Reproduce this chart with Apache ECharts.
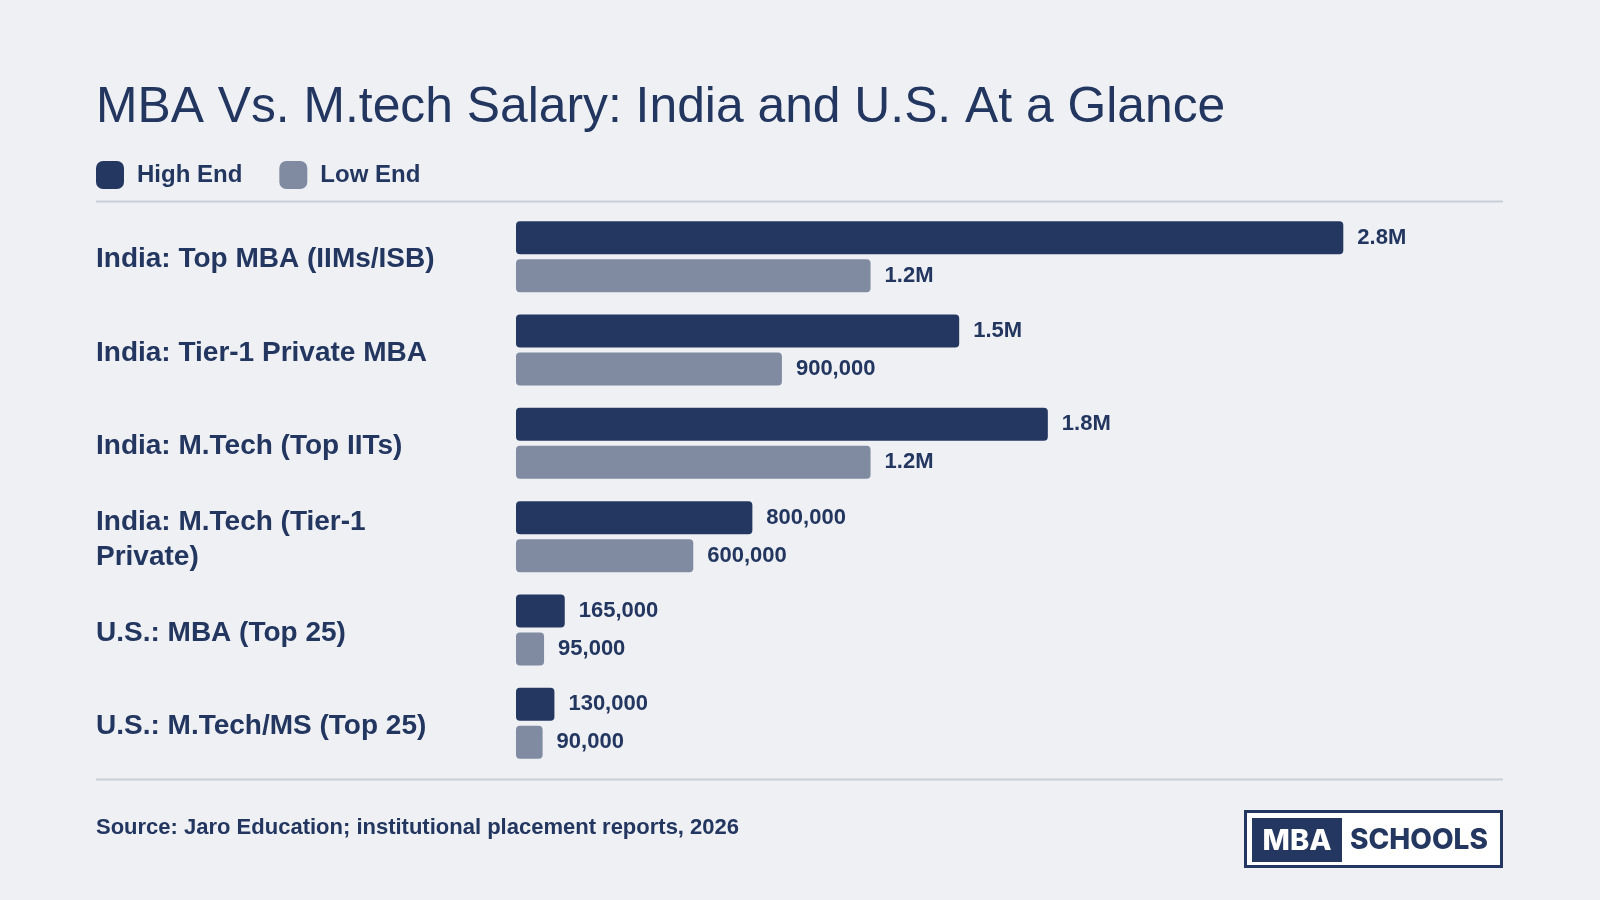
<!DOCTYPE html>
<html>
<head>
<meta charset="utf-8">
<script src="https://cdn.jsdelivr.net/npm/echarts@6/dist/echarts.min.js"></script>
<style>
html,body{margin:0;padding:0;background:#eef0f4;}
#chart{width:1600px;height:900px;}
</style>
</head>
<body>
<div id="chart"></div>
<script>
const categories = [
  'India: Top MBA (IIMs/ISB)',
  'India: Tier-1 Private MBA',
  'India: M.Tech (Top IITs)',
  'India: M.Tech (Tier-1 Private)',
  'U.S.: MBA (Top 25)',
  'U.S.: M.Tech/MS (Top 25)'
];
const highEnd = [2800000, 1500000, 1800000, 800000, 165000, 130000];
const lowEnd = [1200000, 900000, 1200000, 600000, 95000, 90000];
const seriesNames = ['High End', 'Low End'];
const titleText = 'MBA Vs. M.tech Salary: India and U.S. At a Glance';
const sourceText = 'Source: Jaro Education; institutional placement reports, 2026';

const NAVY = '#243760';
const GREY = '#808ba2';
const TEXT = '#22365f';
const FONT = '"Liberation Sans", Arial, Helvetica, sans-serif';

function fmt(v) {
  if (v >= 1000000) return (v / 1000000).toFixed(1) + 'M';
  return v.toLocaleString('en-US');
}

const chart = echarts.init(document.getElementById('chart'));
const labelCfg = {
  show: true,
  position: 'right',
  distance: 14,
  color: TEXT,
  fontFamily: FONT,
  fontWeight: 'bold',
  fontSize: 22,
  padding: [2, 0, 0, 0],
  formatter: p => fmt(p.value)
};

chart.setOption({
  backgroundColor: '#eef0f4',
  animation: false,
  title: {
    text: titleText,
    left: 91,
    top: 78,
    textStyle: { color: TEXT, fontFamily: FONT, fontWeight: 'normal', fontSize: 49.8 }
  },
  legend: {
    left: 96,
    top: 161,
    padding: 0,
    itemWidth: 28,
    itemHeight: 28,
    itemGap: 37,
    icon: 'roundRect',
    data: seriesNames,
    textStyle: { color: TEXT, fontFamily: FONT, fontWeight: 'bold', fontSize: 24, padding: [0, 0, 0, 8] }
  },
  grid: { left: 516, top: 210, right: 256.7, bottom: 130, containLabel: false },
  xAxis: {
    type: 'value',
    min: 0,
    max: Math.max(...highEnd, ...lowEnd),
    show: false
  },
  yAxis: {
    type: 'category',
    data: categories,
    inverse: true,
    axisLine: { show: false },
    axisTick: { show: false },
    axisLabel: {
      margin: 420,
      align: 'left',
      color: TEXT,
      fontFamily: FONT,
      fontWeight: 'bold',
      fontSize: 28,
      lineHeight: 35,
      width: 360,
      overflow: 'break',
      formatter: v => '{t|' + v + '}',
      rich: {
        t: { color: TEXT, fontFamily: FONT, fontWeight: 'bold', fontSize: 28, lineHeight: 35, padding: [6, 0, 0, 0] }
      }
    }
  },
  series: [
    {
      name: seriesNames[0], type: 'bar', data: highEnd,
      barWidth: 33, barGap: '15%',
      itemStyle: { color: NAVY, borderRadius: 4 },
      label: labelCfg
    },
    {
      name: seriesNames[1], type: 'bar', data: lowEnd,
      barWidth: 33, barGap: '15%',
      itemStyle: { color: GREY, borderRadius: 4 },
      label: labelCfg
    }
  ],
  graphic: [
    { type: 'line', shape: { x1: 96, y1: 201.5, x2: 1503, y2: 201.5 }, style: { stroke: '#c8ced8', lineWidth: 2 } },
    { type: 'line', shape: { x1: 96, y1: 779.5, x2: 1503, y2: 779.5 }, style: { stroke: '#c8ced8', lineWidth: 2 } },
    { type: 'text', left: 96, top: 817, style: { text: sourceText, fill: TEXT, font: 'bold 22px ' + FONT } },
    { type: 'rect', shape: { x: 1245.5, y: 811.5, width: 256, height: 55 }, style: { fill: '#ffffff', stroke: NAVY, lineWidth: 3 } },
    { type: 'rect', shape: { x: 1252, y: 818, width: 90, height: 44 }, style: { fill: NAVY } },
    { type: 'text', x: 1297, y: 841, style: { text: 'MBA', fill: '#ffffff', font: '800 29px Inter, "Open Sans", sans-serif', align: 'center', verticalAlign: 'middle' } },
    { type: 'text', x: 1350, y: 841, style: { text: 'SCHOOLS', fill: NAVY, font: '800 28px Inter, "Open Sans", sans-serif', align: 'left', verticalAlign: 'middle' } }
  ]
});
</script>
</body>
</html>
